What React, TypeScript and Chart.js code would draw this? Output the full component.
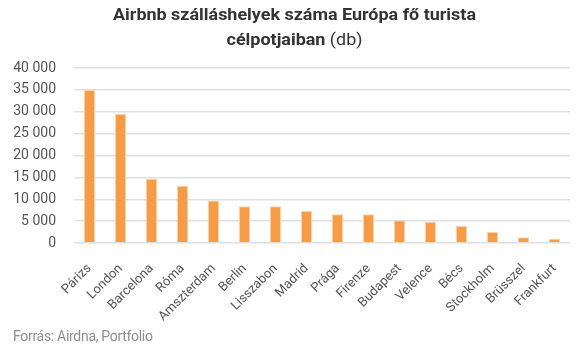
import React, { useEffect, useRef } from "react";
import { Chart, registerables } from "chart.js";

Chart.register(...registerables);

const categories = ["Párizs", "London", "Barcelona", "Róma", "Amszterdam", "Berlin", "Lisszabon", "Madrid", "Prága", "Firenze", "Budapest", "Velence", "Bécs", "Stockholm", "Brüsszel", "Frankfurt"];
const listings = [35000, 29500, 14700, 13100, 9700, 8400, 8400, 7300, 6600, 6600, 5200, 4800, 3900, 2500, 1300, 1000];
const yTicks = [0, 5000, 10000, 15000, 20000, 25000, 30000, 35000, 40000];
const titleLine1 = "Airbnb szálláshelyek száma Európa fő turista";
const titleLine2Bold = "célpotjaiban";
const titleLine2Normal = " (db)";
const sourceText = "Forrás: Airdna, Portfolio";

const fmt = (v: number) => {
  const s = String(Math.round(v));
  return s.replace(/\B(?=(\d{3})+(?!\d))/g, " ");
};

const textPlugin = {
  id: "texts",
  afterDraw(chart: any) {
    const ctx = chart.ctx as CanvasRenderingContext2D;
    ctx.save();
    ctx.fillStyle = "#333333";
    ctx.textBaseline = "middle";
    ctx.textAlign = "left";
    const left = 113;
    const right = 476;
    const cx = (left + right) / 2;
    ctx.font = "bold 17px Roboto";
    const w1raw = ctx.measureText(titleLine1).width;
    const sx = (right - left) / w1raw;
    ctx.save();
    ctx.translate(cx, 0);
    ctx.scale(sx, 1);
    ctx.font = "bold 17px Roboto";
    ctx.fillText(titleLine1, -w1raw / 2, 16);
    const wb = ctx.measureText(titleLine2Bold).width;
    ctx.font = "17px Roboto";
    const wn = ctx.measureText(titleLine2Normal).width;
    const start = -(wb + wn) / 2;
    ctx.font = "bold 17px Roboto";
    ctx.fillText(titleLine2Bold, start, 41);
    ctx.font = "17px Roboto";
    ctx.fillText(titleLine2Normal, start + wb, 41);
    ctx.restore();
    ctx.fillStyle = "#8e8e8e";
    ctx.font = "14px Roboto";
    (ctx as any).letterSpacing = "-0.3px";
    ctx.fillText(sourceText, 13, 337);
    ctx.restore();
  },
};

export default function App() {
  const ref = useRef<HTMLCanvasElement>(null);
  useEffect(() => {
    if (!ref.current) return;
    const chart = new Chart(ref.current, {
      type: "bar",
      data: {
        labels: categories,
        datasets: [
          {
            data: listings,
            backgroundColor: "#F79B45",
            borderColor: "#FBD2AC",
            borderWidth: 1,
            barPercentage: 0.36,
            categoryPercentage: 1,
          },
        ],
      },
      options: {
        animation: false,
        responsive: false,
        maintainAspectRatio: false,
        layout: { padding: { top: 68, right: 10, bottom: 0, left: 0 } },
        plugins: { legend: { display: false }, tooltip: { enabled: false }, title: { display: false } },
        scales: {
          x: {
            grid: { display: false },
            border: { display: false },
            ticks: {
              color: "#555555",
              font: { family: "Roboto", size: 13 },
              minRotation: 45,
              maxRotation: 45,
              autoSkip: false,
              padding: 10,
            },
            afterFit(scale: any) {
              scale.height = 110;
            },
          },
          y: {
            min: 0,
            max: 40000,
            afterBuildTicks(scale: any) {
              scale.ticks = yTicks.map((v) => ({ value: v }));
            },
            grid: { color: "#e0e0e0", lineWidth: 1.5, drawTicks: false },
            border: { display: false },
            ticks: {
              color: "#555555",
              font: { family: "Roboto", size: 14 },
              padding: 18,
              callback: (v: any) => fmt(Number(v)),
            },
            afterFit(scale: any) {
              scale.width = 74;
            },
          },
        },
      },
      plugins: [textPlugin],
    });
    return () => chart.destroy();
  }, []);
  return (
    <div style={{ position: "fixed", left: 0, top: 0, width: 580, height: 353, background: "#fff" }}>
      <canvas ref={ref} width={580} height={353} style={{ width: 580, height: 353 }} />
    </div>
  );
}
